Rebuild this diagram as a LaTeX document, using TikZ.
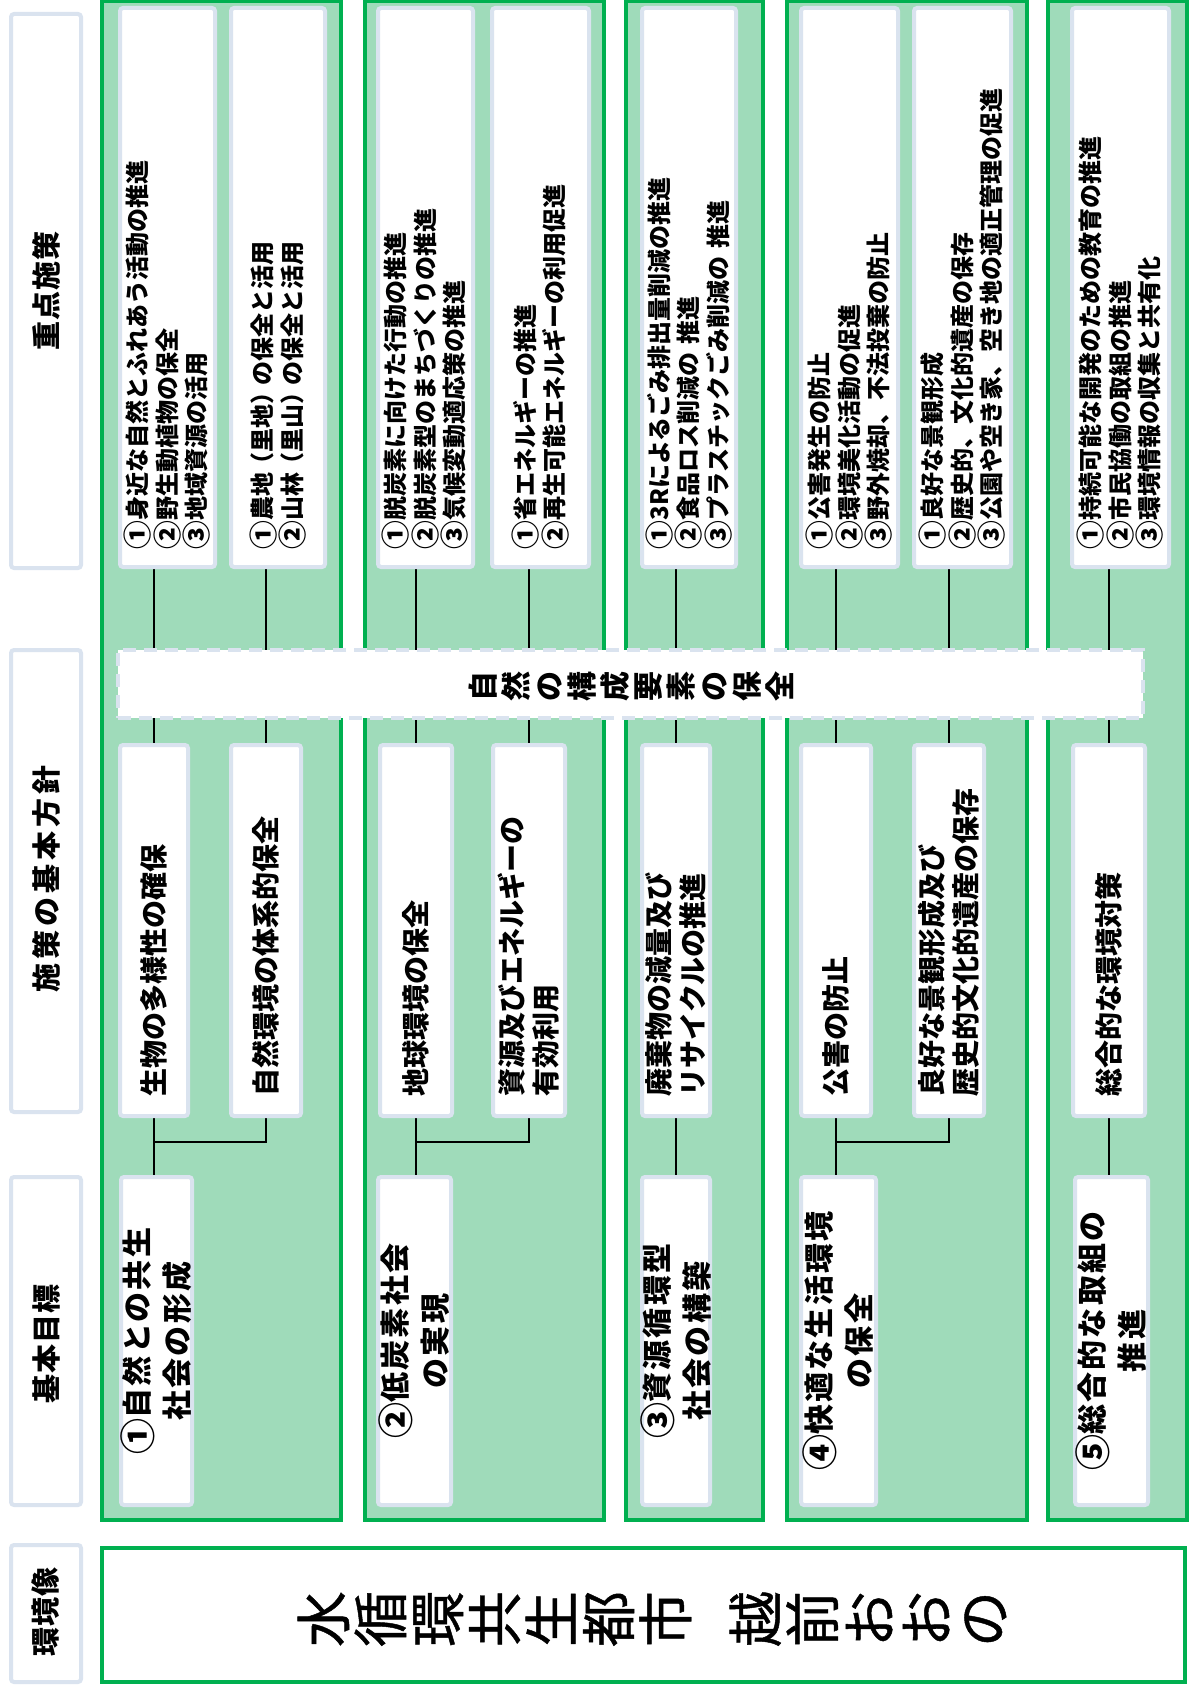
\documentclass[tikz,border=0pt]{standalone}
\usepackage{fontspec}
\setmainfont{Noto Sans CJK JP}
\newfontfamily\jpls[LetterSpace=7]{Noto Sans CJK JP}
\newfontfamily\jphd[LetterSpace=4]{Noto Sans CJK JP}
\newfontfamily\jphdw[LetterSpace=14]{Noto Sans CJK JP}
\newfontfamily\jptitle[FakeBold=0.8]{Noto Sans CJK JP}
\newcommand\cn[1]{\raisebox{-0.1em}{\scalebox{1.2}{#1}}}
\newcommand\lp{\kern-0.2em（}
\newcommand\rp{）\kern-0.2em}
\definecolor{grfill}{RGB}{159,219,186}
\definecolor{grline}{RGB}{0,176,80}
\definecolor{bxline}{RGB}{218,227,239}
\pgfdeclarelayer{grp}
\pgfdeclarelayer{lines}
\pgfsetlayers{grp,lines,main}
\begin{document}
\begin{tikzpicture}[x=1pt,y=-1pt,
  grp/.style={draw=grline, fill=grfill, line width=4pt, minimum height=1519pt, inner sep=0pt},
  wbox/.style={draw=bxline, fill=white, line width=4pt, rounded corners=3pt, inner sep=0pt},
  topbox/.style={wbox, minimum height=559pt},
  midbox/.style={wbox, minimum height=371pt},
  botbox/.style={wbox, minimum height=328pt},
  hdbox/.style={wbox, minimum width=70pt},
  conn/.style={draw=black, line width=2.5pt},
  toptxt/.style={rotate=90, inner sep=0pt, align=left, text width=523pt, font=\fontsize{24}{29.5}\selectfont\bfseries},
  midtxt/.style={rotate=90, inner sep=0pt, align=left, text width=331pt, font=\fontsize{28}{34}\selectfont\bfseries},
  bottxt/.style={rotate=90, inner sep=0pt, align=center, font=\jpls\fontsize{30}{40}\selectfont\bfseries},
  hdtxt/.style={rotate=90, inner sep=0pt, font=\jphd\fontsize{29}{29}\selectfont\bfseries},
]
\useasboundingbox (0,0) rectangle (1191,1686);

% header column
\node[hdbox, minimum height=554pt] (h1) at (46,291) {};
\node[hdbox, minimum height=462pt] (h2) at (46,881) {};
\node[hdbox, minimum height=328pt] (h3) at (46,1341) {};
\node[hdbox, minimum height=137pt] (h4) at (46,1613.5) {};
\node[hdtxt] (h1t) at (46,291) {重点施策};
\node[hdtxt, font=\jphdw\fontsize{29}{29}\selectfont\bfseries] (h2t) at (46,879) {施策の基本方針};
\node[hdtxt] (h3t) at (46,1344) {基本目標};
\node[hdtxt] (h4t) at (46,1612) {環境像};

% groups
\begin{pgfonlayer}{grp}
\node[grp, minimum width=239pt] (g1) at (221.5,760.5) {};
\node[grp, minimum width=239pt] (g2) at (484.5,760.5) {};
\node[grp, minimum width=137pt] (g3) at (694.5,760.5) {};
\node[grp, minimum width=240pt] (g4) at (907,760.5) {};
\node[grp, minimum width=139pt] (g5) at (1117.5,760.5) {};
\end{pgfonlayer}

% top boxes
\node[topbox, minimum width=95pt] (t1a) at (167.5,287.5) {};
\node[topbox, minimum width=94pt] (t1b) at (278,287.5) {};
\node[topbox, minimum width=95pt] (t2a) at (425.5,287.5) {};
\node[topbox, minimum width=97pt] (t2b) at (540.5,287.5) {};
\node[topbox, minimum width=94pt] (t3) at (689,287.5) {};
\node[topbox, minimum width=97pt] (t4a) at (849.5,287.5) {};
\node[topbox, minimum width=97pt] (t4b) at (962.5,287.5) {};
\node[topbox, minimum width=97pt] (t5) at (1120.5,287.5) {};

\node[toptxt] (t1at) at (t1a.center) {\cn{①}身近な自然とふれあう活動の推進\\\cn{②}野生動植物の保全\\\cn{③}地域資源の活用};
\node[toptxt] (t1bt) at (t1b.center) {\cn{①}農地\lp 里地\rp の保全と活用\\\cn{②}山林\lp 里山\rp の保全と活用};
\node[toptxt] (t2at) at (t2a.center) {\cn{①}脱炭素に向けた行動の推進\\\cn{②}脱炭素型のまちづくりの推進\\\cn{③}気候変動適応策の推進};
\node[toptxt] (t2bt) at (t2b.center) {\cn{①}省エネルギーの推進\\\cn{②}再生可能エネルギーの利用促進};
\node[toptxt] (t3t) at (t3.center) {\cn{①}3Rによるごみ排出量削減の推進\\\cn{②}食品ロス削減の 推進\\\cn{③}プラスチックごみ削減の 推進};
\node[toptxt] (t4at) at (t4a.center) {\cn{①}公害発生の防止\\\cn{②}環境美化活動の促進\\\cn{③}野外焼却、不法投棄の防止};
\node[toptxt] (t4bt) at (t4b.center) {\cn{①}良好な景観形成\\\cn{②}歴史的、文化的遺産の保存\\\cn{③}公園や空き家、空き地の適正管理の促進};
\node[toptxt] (t5t) at (t5.center) {\cn{①}持続可能な開発のための教育の推進\\\cn{②}市民協働の取組の推進\\\cn{③}環境情報の収集と共有化};

% middle boxes
\node[midbox, minimum width=68pt] (m1a) at (154,930.5) {};
\node[midbox, minimum width=70pt] (m1b) at (266,930.5) {};
\node[midbox, minimum width=72pt] (m2a) at (416,930.5) {};
\node[midbox, minimum width=72pt] (m2b) at (529,930.5) {};
\node[midbox, minimum width=68pt] (m3) at (676,930.5) {};
\node[midbox, minimum width=70pt] (m4a) at (836,930.5) {};
\node[midbox, minimum width=70pt] (m4b) at (949,930.5) {};
\node[midbox, minimum width=72pt] (m5) at (1109,930.5) {};

\node[midtxt] (m1at) at (m1a.center) {生物の多様性の確保};
\node[midtxt] (m1bt) at (m1b.center) {自然環境の体系的保全};
\node[midtxt] (m2at) at (m2a.center) {地球環境の保全};
\node[midtxt] (m2bt) at (m2b.center) {資源及びエネルギーの\\有効利用};
\node[midtxt] (m3t) at (m3.center) {廃棄物の減量及び\\リサイクルの推進};
\node[midtxt] (m4at) at (m4a.center) {公害の防止};
\node[midtxt] (m4bt) at (m4b.center) {良好な景観形成及び\\歴史的文化的遺産の保存};
\node[midtxt] (m5t) at (m5.center) {総合的な環境対策};

% bottom boxes
\node[botbox, minimum width=71pt] (b1) at (156.5,1341) {};
\node[botbox, minimum width=73pt] (b2) at (414.5,1341) {};
\node[botbox, minimum width=68pt] (b3) at (676,1341) {};
\node[botbox, minimum width=75pt] (b4) at (838.5,1341) {};
\node[botbox, minimum width=73pt] (b5) at (1111.5,1341) {};

\node[bottxt] (b1t) at (b1.center) {\cn{①}自然との共生\\社会の形成};
\node[bottxt] (b2t) at (b2.center) {\cn{②}低炭素社会\\の実現};
\node[bottxt] (b3t) at (b3.center) {\cn{③}資源循環型\\社会の構築};
\node[bottxt] (b4t) at (b4.center) {\cn{④}快適な生活環境\\の保全};
\node[bottxt] (b5t) at (b5.center) {\cn{⑤}総合的な取組の\\推進};

% connectors
\coordinate (k1) at (154,1142);
\coordinate (k2) at (416,1142);
\coordinate (k4) at (836,1142);
\begin{pgfonlayer}{lines}
\draw[conn] (m1a.north |- t1a.south) -- (m1a.north);
\draw[conn] (m1b.north |- t1b.south) -- (m1b.north);
\draw[conn] (m1a.south) -- (m1a.south |- b1.north);
\draw[conn] (m1b.south) |- (k1);
\draw[conn] (m2a.north |- t2a.south) -- (m2a.north);
\draw[conn] (m2b.north |- t2b.south) -- (m2b.north);
\draw[conn] (m2a.south) -- (m2a.south |- b2.north);
\draw[conn] (m2b.south) |- (k2);
\draw[conn] (m3.north |- t3.south) -- (m3.north);
\draw[conn] (m3.south) -- (m3.south |- b3.north);
\draw[conn] (m4a.north |- t4a.south) -- (m4a.north);
\draw[conn] (m4b.north |- t4b.south) -- (m4b.north);
\draw[conn] (m4a.south) -- (m4a.south |- b4.north);
\draw[conn] (m4b.south) |- (k4);
\draw[conn] (m5.north |- t5.south) -- (m5.north);
\draw[conn] (m5.south) -- (m5.south |- b5.north);
\end{pgfonlayer}

% band
\node[draw=bxline, fill=white, line width=3.5pt, dash pattern=on 13pt off 8pt, minimum width=1025pt, minimum height=68pt, inner sep=0pt] (band) at (630.5,684) {};
\node[rotate=90, align=center, inner sep=0pt, font=\fontsize{30}{33}\selectfont\bfseries] (bandt) at (631,686) {自\\然\\の\\構\\成\\要\\素\\の\\保\\全};

% title
\node[draw=grline, fill=white, line width=4pt, minimum width=1083pt, minimum height=134pt, inner sep=0pt] (titlebox) at (643.5,1615) {};
\node[rotate=90, align=center, inner sep=0pt, font=\jptitle\fontsize{56}{57}\selectfont] (title) at (652,1619) {水\\循\\環\\共\\生\\都\\市\\[33pt]越\\前\\お\\お\\の};
\end{tikzpicture}
\end{document}
